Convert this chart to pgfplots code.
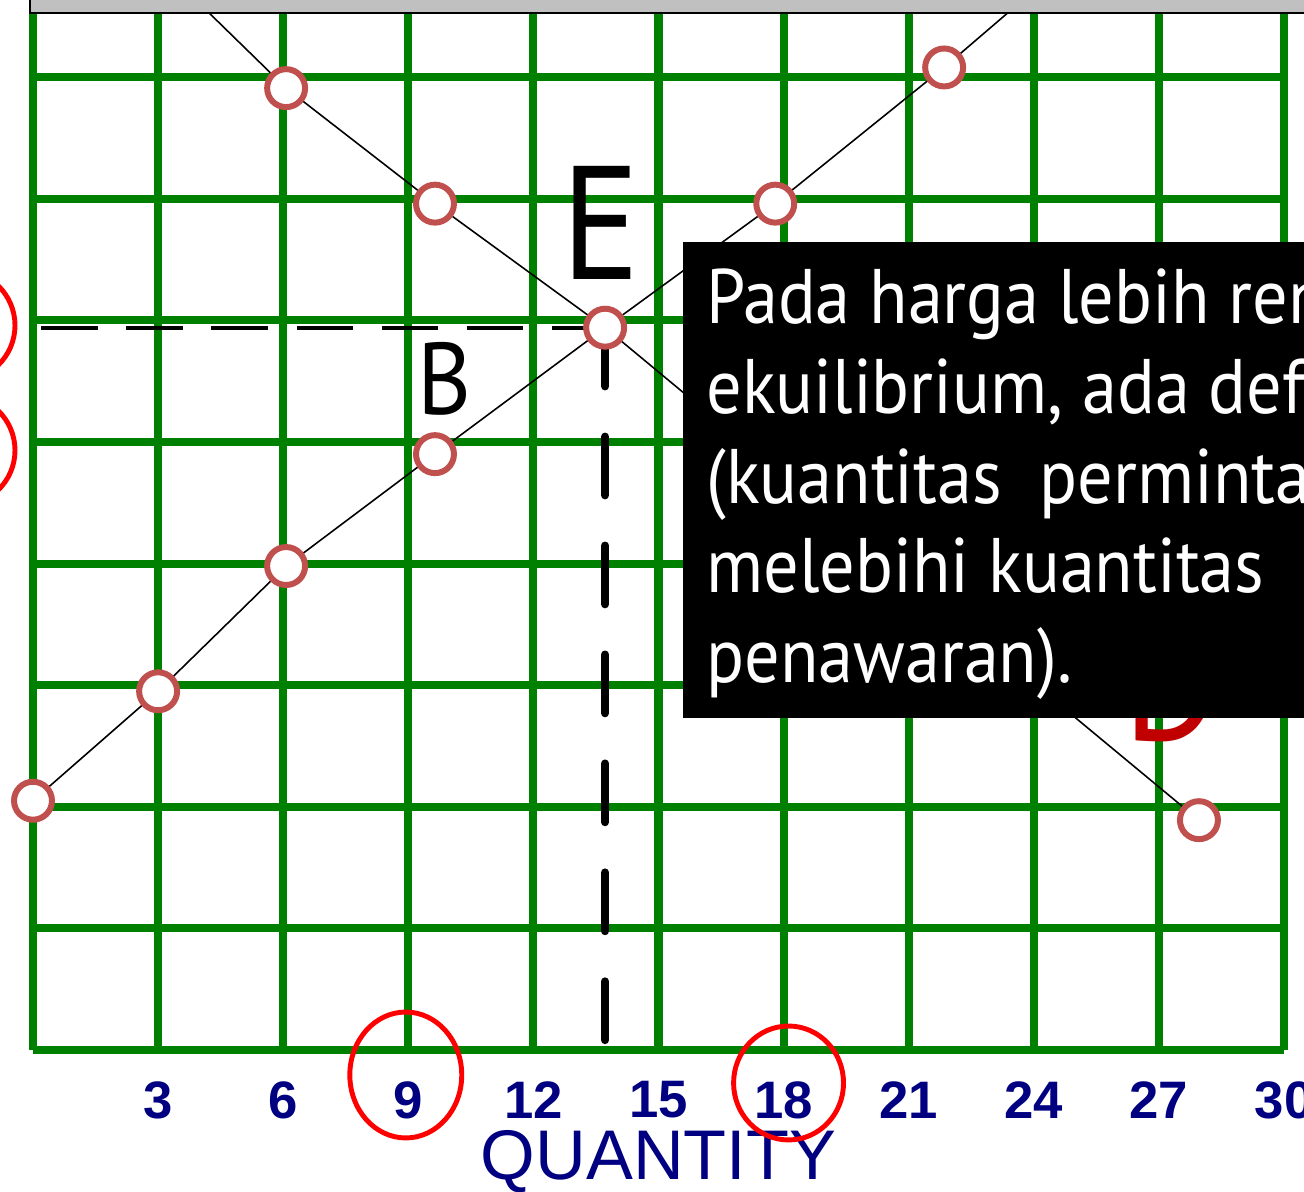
\documentclass[border=0pt]{standalone}
\usepackage{pgfplots}
\pgfplotsset{compat=1.18}
\usepackage{fontspec}
\setmainfont{Liberation Sans}
\newfontfamily\narrowfont[FakeStretch=0.91]{PT Sans}
\definecolor{gridgreen}{RGB}{0,128,0}
\definecolor{navyblue}{RGB}{0,0,128}
\definecolor{mkred}{RGB}{192,80,77}
\definecolor{dred}{RGB}{192,0,0}
\definecolor{bargray}{RGB}{192,192,192}

\begin{document}
\begin{tikzpicture}
\useasboundingbox (-0.33,-1.41) rectangle (12.71,10.50);
\clip (-0.33,-1.41) rectangle (12.71,10.50);
\begin{axis}[
  at={(0,0)}, anchor=south west,
  scale only axis, width=12.51cm, height=10.38cm,
  xmin=0, xmax=30, ymin=0, ymax=8.536,
  xtick={0,3,...,30},
  xticklabels={,3,6,9,12,15,18,21,24,27,30},
  ytick={0,1,...,8}, yticklabels={},
  major tick length=0pt,
  axis x line*=bottom, axis y line*=left,
  axis line style={gridgreen, line width=2.3pt, -},
  grid=major, grid style={gridgreen, line width=2.3pt},
  xticklabel style={font=\fontsize{15}{15}\selectfont\bfseries,
    text=navyblue, anchor=center, yshift=-0.5cm},
  xlabel={QUANTITY},
  xlabel style={at={(axis description cs:0.5,0)}, anchor=center,
    yshift=-1.12cm, font=\fontsize{20}{20}\selectfont, text=navyblue},
  clip=false,
]
% markers (drawn under the lines)
\addplot[only marks, mark=*, mark size=5.4pt,
  mark options={draw=mkred, fill=white, line width=1.7pt}]
  coordinates {(6.07,7.91) (9.64,6.96) (13.72,5.94) (27.96,1.89)};
\addplot[only marks, mark=*, mark size=5.4pt,
  mark options={draw=mkred, fill=white, line width=1.7pt}]
  coordinates {(0,2.05) (3,2.95) (6.07,3.98) (9.64,4.90) (17.8,6.96) (21.85,8.08)};
% demand
\addplot[black, line width=0.45pt, no marks]
  coordinates {(4.2,8.536) (6.07,7.91) (9.64,6.96) (13.72,5.94) (27.96,1.89)};
% supply
\addplot[black, line width=0.45pt, no marks]
  coordinates {(0,2.05) (3,2.95) (6.07,3.98) (9.64,4.90) (13.72,5.94) (17.8,6.96) (21.85,8.08) (23.4,8.536)};
% equilibrium guides
\draw[black, line width=1.1pt, dash pattern=on 16pt off 8.2pt]
  (axis cs:0.2,5.94) -- (axis cs:13.72,5.94);
\draw[black, line width=2.3pt, line cap=round, dash pattern=on 16.7pt off 14.3pt]
  (axis cs:13.72,5.94) -- (axis cs:13.72,0);
\end{axis}

\begin{scope}[x=0.01cm, y=-0.01cm, shift={(-33,-1050)}]
  \fill[bargray] (30,-20) rectangle (1320,12);
  \draw[black, line width=0.6pt] (30,-20) -- (30,12) -- (1320,12);
  \node[font=\narrowfont\fontsize{46}{46}\selectfont] at (601,222) {E};
  \node[font=\narrowfont\fontsize{29}{29}\selectfont] at (445,378) {B};
  \node[font=\narrowfont\fontsize{46}{46}\selectfont, text=dred] at (1172,684) {D};
  \fill[black] (683,242) rectangle (1330,718);
  \node[anchor=north west, inner sep=0pt, align=left, text=white,
    font=\narrowfont\fontsize{22}{25.5}\selectfont] at (706,268)
    {Pada harga lebih rendah dari harga\\ekuilibrium, ada defisit\\(kuantitas\ \ permintaan\\melebihi kuantitas\\penawaran).};
  \draw[red, line width=1.4pt] (406,1075) ellipse [x radius=56, y radius=63];
  \draw[red, line width=1.4pt] (789,1083) ellipse [x radius=55, y radius=57];
  \draw[red, line width=1.4pt] (-42,325) ellipse [x radius=57, y radius=56];
  \draw[red, line width=1.4pt] (-42,450) ellipse [x radius=57, y radius=56];
\end{scope}
\end{tikzpicture}
\end{document}
